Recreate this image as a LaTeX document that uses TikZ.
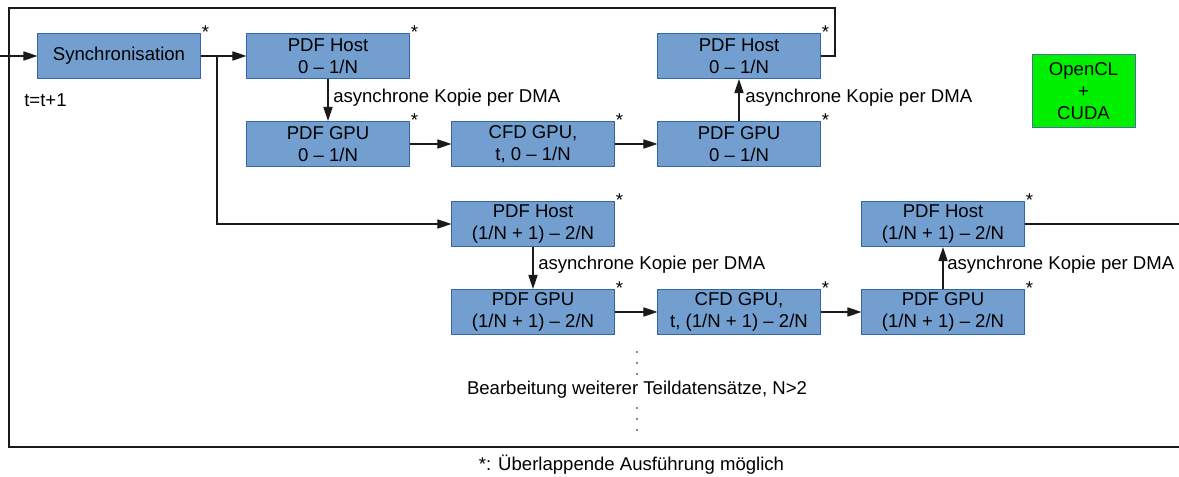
\documentclass[tikz,border=0pt]{standalone}
\usepackage{fontspec}
\setmainfont{Liberation Sans}
\usetikzlibrary{arrows.meta}

\definecolor{boxfill}{HTML}{729FCF}
\definecolor{boxline}{HTML}{3465A4}
\definecolor{apifill}{HTML}{00F000}
\definecolor{wire}{HTML}{1A1A1A}

\begin{document}
\begin{tikzpicture}[x=0.025cm,y=-0.025cm,
  every node/.style={font=\fontsize{13.2pt}{15.4pt}\selectfont, text=black},
  stage/.style={draw=boxline, fill=boxfill, line width=0.7pt,
    minimum width=4.05cm, minimum height=1.125cm, inner sep=0pt, align=center},
  apibox/.style={draw=boxline!70!gray, fill=apifill, line width=0.7pt,
    minimum width=2.575cm, minimum height=1.825cm, inner sep=0pt, align=center},
  ovl/.style={anchor=base west, inner sep=0pt},
  note/.style={anchor=west, inner sep=0pt},
  wireline/.style={draw=wire, line width=0.8pt},
  arr/.style={wireline, -{Triangle[length=10pt,width=6.5pt]}},
  dot/.style={fill=wire, draw=none}
]
\useasboundingbox (0,0) rectangle (1179,477);

% feedback frame
\coordinate (in) at (0,56);
\coordinate (loopA) at (835,8);
\coordinate (loopB) at (9,8);
\coordinate (loopC) at (9,447);
\coordinate (loopD) at (1179,447);
\coordinate (outR) at (1179,224);
\coordinate (br) at (217,56);

% stages
\node[stage] (sync) at (119,56) {Synchronisation};
\node[stage] (h1)  at (328,56)  {PDF Host\\0 -- 1/N};
\node[stage] (g1)  at (328,144) {PDF GPU\\0 -- 1/N};
\node[stage] (c1)  at (533,144) {CFD GPU,\\t, 0 -- 1/N};
\node[stage] (g1b) at (739,144) {PDF GPU\\0 -- 1/N};
\node[stage] (h1b) at (739,56)  {PDF Host\\0 -- 1/N};

\node[stage] (h2)  at (533,224) {PDF Host\\(1/N + 1) -- 2/N};
\node[stage] (g2)  at (533,312) {PDF GPU\\(1/N + 1) -- 2/N};
\node[stage] (c2)  at (739,312) {CFD GPU,\\t, (1/N + 1) -- 2/N};
\node[stage] (g2b) at (943,312) {PDF GPU\\(1/N + 1) -- 2/N};
\node[stage] (h2b) at (943,224) {PDF Host\\(1/N + 1) -- 2/N};

\node[apibox] (api) at (1083.5,91) {OpenCL\\+\\CUDA};

% overlap markers
\foreach \n/\s in {sync/s0,h1/s1,g1/s2,c1/s3,g1b/s4,h1b/s5,h2/s6,g2/s7,c2/s8,g2b/s9,h2b/s10}
  \node[ovl] (\s) at ([shift={(1,6)}]\n.north east) {*};

% connectors
\draw[arr] (in) -- (sync);
\draw[arr] (sync) -- (h1);
\draw[arr] (br) |- (h2);
\draw[arr] (h1) -- (g1);
\draw[arr] (g1) -- (c1);
\draw[arr] (c1) -- (g1b);
\draw[arr] (g1b) -- (h1b);
\draw[wireline] (h1b.east) -| (loopA) -- (loopB) -- (loopC) -- (loopD);

\draw[arr] (h2) -- (g2);
\draw[arr] (g2) -- (c2);
\draw[arr] (c2) -- (g2b);
\draw[arr] (g2b) -- (h2b);
\draw[wireline] (h2b) -- (outR);

% labels
\node[note] (k1) at (333,98)  {asynchrone Kopie per DMA};
\node[note] (k2) at (745,98)  {asynchrone Kopie per DMA};
\node[note] (k3) at (538,265) {asynchrone Kopie per DMA};
\node[note] (k4) at (947,265) {asynchrone Kopie per DMA};
\node[note] (tt) at (24,100) {t=t+1};

% further data subsets
\node[inner sep=0pt] (more) at (637,390) {Bearbeitung weiterer Teildatensätze, N>2};
\foreach \yy in {352,363,374,408,419,430}
  \fill[dot] (637,\yy) circle (0.9);

\node[inner sep=0pt] (foot) at (631.5,465) {*: Überlappende Ausführung möglich};
\end{tikzpicture}
\end{document}
